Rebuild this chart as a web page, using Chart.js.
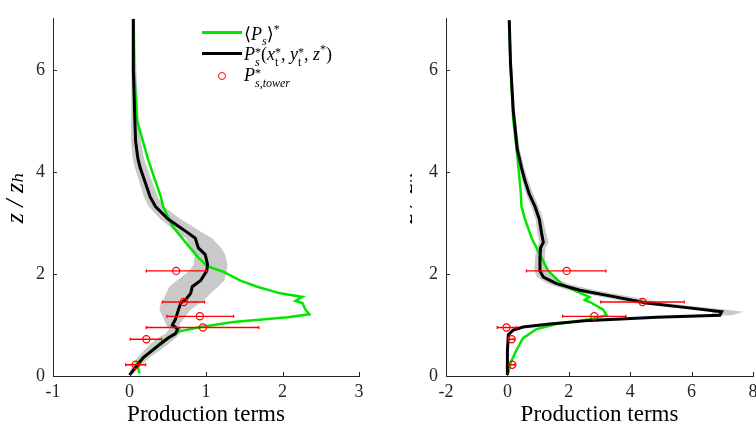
<!DOCTYPE html>
<html>
<head>
<meta charset="utf-8">
<script src="https://cdn.jsdelivr.net/npm/chart.js@4"></script>
<style>
  html, body { margin: 0; padding: 0; background: #fff; overflow: hidden; }
  body { width: 756px; height: 431px; position: relative; }
  canvas { position: absolute; top: 0; }
  #left { background: #fff; z-index: 1; }
  #legend { position: absolute; left: 0; top: 0; z-index: 2; font-family: "Liberation Serif", "DejaVu Serif", serif; font-size: 18px; color: #000; }
  #legend .ln { position: absolute; left: 202px; width: 40px; height: 3px; }
  #legend .mk { position: absolute; left: 218px; width: 6px; height: 6px; border: 1.2px solid #ff0000; border-radius: 50%; }
  #legend .tx { position: absolute; left: 244px; white-space: nowrap; }
  .st { display: inline-block; vertical-align: -6px; font-size: 12px; line-height: 10px; }
  sup { font-size: 12px; }
  sub { font-size: 12px; }
</style>
</head>
<body>
<canvas id="left" width="410" height="431" style="left:0;width:410px;height:431px"></canvas>
<canvas id="right" width="400" height="431" style="left:378px;width:400px;height:431px"></canvas>
<div id="legend">
  <div class="ln" style="top:31px;background:#00e600"></div>
  <div class="tx" style="top:22px">⟨<i>P</i><sub><i>s</i></sub>⟩<sup>*</sup></div>
  <div class="ln" style="top:52px;background:#000"></div>
  <div class="tx" style="top:42px"><i>P</i><span class="st">*<br><i>s</i></span>(<i>x</i><span class="st">*<br>t</span>, <i>y</i><span class="st">*<br>t</span>, <i>z</i><sup>*</sup>)</div>
  <div class="mk" style="top:72px"></div>
  <div class="tx" style="top:65px"><i>P</i><span class="st">*<br><i>s,tower</i></span></div>
</div>
<script>
// heights (z/z_h) of the tower measurements, shared by both panels
const zTower = [2.06, 1.45, 1.17, 0.95, 0.72, 0.22];

// left panel
const xTicksL = [-1, 0, 1, 2, 3];
const zBlackL = [7.0, 6.0, 5.0, 4.6, 4.26, 4.08, 3.51, 3.32, 3.08, 2.81, 2.70, 2.51, 2.38, 2.19, 2.06, 1.87, 1.75, 1.62, 1.49, 1.43, 1.30, 1.11, 1.00, 0.92, 0.83, 0.74, 0.55, 0.36, 0.17, 0.02];
const pBlackL = [0.05, 0.05, 0.07, 0.08, 0.11, 0.14, 0.27, 0.34, 0.50, 0.76, 0.86, 0.90, 0.99, 1.02, 1.01, 0.93, 0.82, 0.80, 0.73, 0.67, 0.64, 0.60, 0.56, 0.63, 0.60, 0.50, 0.34, 0.18, 0.08, 0.0];
const bandLoL = [0.03, 0.02, 0.02, 0.02, 0.04, 0.07, 0.19, 0.25, 0.40, 0.62, 0.74, 0.79, 0.85, 0.84, 0.78, 0.62, 0.52, 0.48, 0.44, 0.41, 0.39, 0.45, 0.48, 0.52, 0.47, 0.36, 0.22, 0.10, 0.03, -0.01];
const bandHiL = [0.07, 0.09, 0.12, 0.15, 0.19, 0.23, 0.37, 0.45, 0.66, 0.95, 1.08, 1.20, 1.25, 1.28, 1.27, 1.24, 1.16, 1.06, 0.98, 0.92, 0.80, 0.70, 0.65, 0.68, 0.66, 0.60, 0.44, 0.26, 0.13, 0.03];
const zGreenL = [7.0, 6.0, 5.0, 4.26, 3.9, 3.51, 3.32, 2.94, 2.57, 2.32, 2.15, 2.04, 1.87, 1.75, 1.62, 1.55, 1.47, 1.43, 1.30, 1.21, 1.15, 1.06, 0.96, 0.87, 0.68, 0.43, 0.25, 0.05];
const pGreenL = [0.05, 0.06, 0.10, 0.24, 0.32, 0.41, 0.44, 0.56, 0.76, 0.90, 1.02, 1.23, 1.45, 1.67, 1.97, 2.26, 2.17, 2.26, 2.30, 2.35, 2.07, 1.36, 0.93, 0.64, 0.43, 0.24, 0.10, 0.13];
const pTowerL = [0.61, 0.71, 0.92, 0.96, 0.22, 0.08];
const errLoL = [0.22, 0.43, 0.49, 0.22, 0.01, -0.05];
const errHiL = [1.01, 0.98, 1.36, 1.69, 0.42, 0.21];

// right panel
const xTicksR = [-2, 0, 2, 4, 6, 8];
const zBlackR = [6.97, 6.15, 5.21, 4.45, 4.08, 3.83, 3.57, 3.32, 3.07, 2.81, 2.62, 2.51, 2.32, 2.06, 1.94, 1.81, 1.68, 1.57, 1.43, 1.34, 1.26, 1.19, 1.15, 1.09, 1.02, 0.96, 0.90, 0.81, 0.49, 0.02];
const pBlackR = [0.06, 0.10, 0.19, 0.32, 0.46, 0.57, 0.71, 0.90, 1.04, 1.11, 1.17, 1.08, 1.06, 1.06, 1.17, 1.60, 2.36, 3.34, 4.53, 5.84, 6.98, 6.92, 4.86, 2.69, 1.38, 0.51, 0.19, 0.03, 0.0, 0.0];
const bandLoR = [0.03, 0.06, 0.14, 0.26, 0.38, 0.48, 0.60, 0.78, 0.92, 0.98, 1.04, 0.95, 0.90, 0.88, 0.96, 1.32, 1.98, 2.90, 4.10, 5.40, 6.70, 6.60, 4.60, 2.50, 1.25, 0.42, 0.12, -0.02, -0.03, -0.03];
const bandHiR = [0.09, 0.14, 0.24, 0.40, 0.55, 0.68, 0.84, 1.02, 1.16, 1.26, 1.34, 1.24, 1.22, 1.26, 1.46, 1.96, 2.86, 3.90, 5.10, 6.50, 7.70, 7.30, 5.10, 2.90, 1.52, 0.62, 0.28, 0.08, 0.04, 0.04];
const zGreenR = [6.97, 6.15, 5.02, 4.45, 3.64, 3.32, 3.08, 2.70, 2.38, 2.06, 1.81, 1.66, 1.55, 1.49, 1.45, 1.30, 1.19, 1.11, 1.02, 0.92, 0.74, 0.49, 0.25, 0.06];
const pGreenR = [0.06, 0.10, 0.19, 0.30, 0.43, 0.46, 0.57, 0.79, 1.06, 1.33, 1.76, 2.25, 2.67, 2.52, 2.69, 3.12, 3.23, 2.69, 1.60, 0.95, 0.51, 0.28, 0.10, 0.03];
const pTowerR = [1.93, 4.40, 2.83, -0.03, 0.14, 0.16];
const errLoR = [0.62, 3.04, 1.80, -0.33, 0.06, 0.08];
const errHiR = [3.21, 5.76, 3.86, 0.30, 0.22, 0.24];

const yTicks = [0, 2, 4, 6];
const axisColor = '#262626';
const serif = '"Liberation Serif", "DejaVu Serif", serif';

function pts(xs, zs) {
  return zs.map((z, i) => ({ x: xs[i], y: z }));
}

function makePanel(id, p) {
  const band = pts(p.bandLo, p.zBlack).concat(pts(p.bandHi, p.zBlack).reverse());

  // inward tick marks like the original figure
  const inTicks = {
    id: 'inTicks',
    afterDraw(chart) {
      const { ctx, chartArea: a, scales: { x, y } } = chart;
      ctx.save();
      ctx.strokeStyle = axisColor;
      ctx.lineWidth = 1;
      ctx.beginPath();
      x.ticks.forEach(t => {
        const px = Math.round(x.getPixelForValue(t.value)) + 0.5;
        ctx.moveTo(px, a.bottom);
        ctx.lineTo(px, a.bottom - 4);
      });
      y.ticks.forEach(t => {
        const py = Math.round(y.getPixelForValue(t.value)) + 0.5;
        ctx.moveTo(a.left, py);
        ctx.lineTo(a.left + 4, py);
      });
      ctx.stroke();
      ctx.restore();
    }
  };

  // horizontal error bars, drawn just before the tower circles
  const errBars = {
    id: 'errBars',
    beforeDatasetDraw(chart, args) {
      if (args.index !== 0) return;
      const { ctx, scales: { x, y } } = chart;
      ctx.save();
      ctx.strokeStyle = '#ff0000';
      ctx.lineWidth = 1.3;
      ctx.beginPath();
      zTower.forEach((z, i) => {
        const py = y.getPixelForValue(z);
        const x0 = x.getPixelForValue(p.errLo[i]);
        const x1 = x.getPixelForValue(p.errHi[i]);
        ctx.moveTo(x0, py); ctx.lineTo(x1, py);
        ctx.moveTo(x0, py - 1.5); ctx.lineTo(x0, py + 1.5);
        ctx.moveTo(x1, py - 1.5); ctx.lineTo(x1, py + 1.5);
      });
      ctx.stroke();
      ctx.restore();
    }
  };

  return new Chart(document.getElementById(id), {
    type: 'scatter',
    data: {
      datasets: [
        {
          data: pts(p.pTower, zTower),
          pointStyle: 'circle',
          pointRadius: 3.6,
          pointBorderWidth: 1.2,
          pointBorderColor: '#ff0000',
          pointBackgroundColor: 'rgba(0,0,0,0)',
          showLine: false,
          order: 0
        },
        {
          data: pts(p.pBlack, p.zBlack),
          showLine: true,
          borderColor: '#000000',
          borderWidth: 3,
          pointRadius: 0,
          tension: 0,
          order: 1
        },
        {
          data: pts(p.pGreen, p.zGreen),
          showLine: true,
          borderColor: '#00e600',
          borderWidth: 2.5,
          pointRadius: 0,
          tension: 0,
          order: 2
        },
        {
          data: band,
          showLine: true,
          borderWidth: 0,
          borderColor: 'rgba(0,0,0,0)',
          backgroundColor: '#c9c9c9',
          fill: 'shape',
          pointRadius: 0,
          tension: 0,
          order: 3
        }
      ]
    },
    options: {
      responsive: false,
      animation: false,
      events: [],
      layout: { padding: { top: 6, right: p.padRight, left: 0, bottom: 0 } },
      plugins: { legend: { display: false }, tooltip: { enabled: false } },
      scales: {
        x: {
          type: 'linear',
          min: p.xTicks[0],
          max: p.xTicks[p.xTicks.length - 1],
          afterBuildTicks: s => { s.ticks = p.xTicks.map(v => ({ value: v })); },
          afterFit: s => { s.height = 55; },
          ticks: { font: { family: serif, size: 18 }, color: axisColor, padding: 5, maxRotation: 0 },
          grid: { display: false, drawTicks: false },
          border: { display: true, color: axisColor, width: 1 },
          title: { display: true, text: 'Production terms', font: { family: serif, size: 23 }, color: '#000', padding: { top: 0, bottom: 2 } }
        },
        y: {
          type: 'linear',
          min: 0,
          max: 7,
          afterBuildTicks: s => { s.ticks = yTicks.map(v => ({ value: v })); },
          afterFit: s => { s.width = p.yWidth; },
          ticks: { font: { family: serif, size: 18 }, color: axisColor, padding: 8 },
          grid: { display: false, drawTicks: false },
          border: { display: true, color: axisColor, width: 1 },
          title: { display: true, text: 'z / zₕ', font: { family: serif, size: 26, style: 'italic' }, color: '#000', padding: { top: p.titlePad, bottom: 0 } }
        }
      }
    },
    plugins: [inTicks, errBars]
  });
}

makePanel('left', {
  xTicks: xTicksL, zBlack: zBlackL, pBlack: pBlackL, bandLo: bandLoL, bandHi: bandHiL,
  zGreen: zGreenL, pGreen: pGreenL, pTower: pTowerL, errLo: errLoL, errHi: errHiL,
  yWidth: 53, padRight: 51, titlePad: 1
});
// the right panel sits partly under the left one, as in the source figure
makePanel('right', {
  xTicks: xTicksR, zBlack: zBlackR, pBlack: pBlackR, bandLo: bandLoR, bandHi: bandHiR,
  zGreen: zGreenR, pGreen: pGreenR, pTower: pTowerR, errLo: errLoR, errHi: errHiR,
  yWidth: 68, padRight: 25, titlePad: 12
});
</script>
</body>
</html>
